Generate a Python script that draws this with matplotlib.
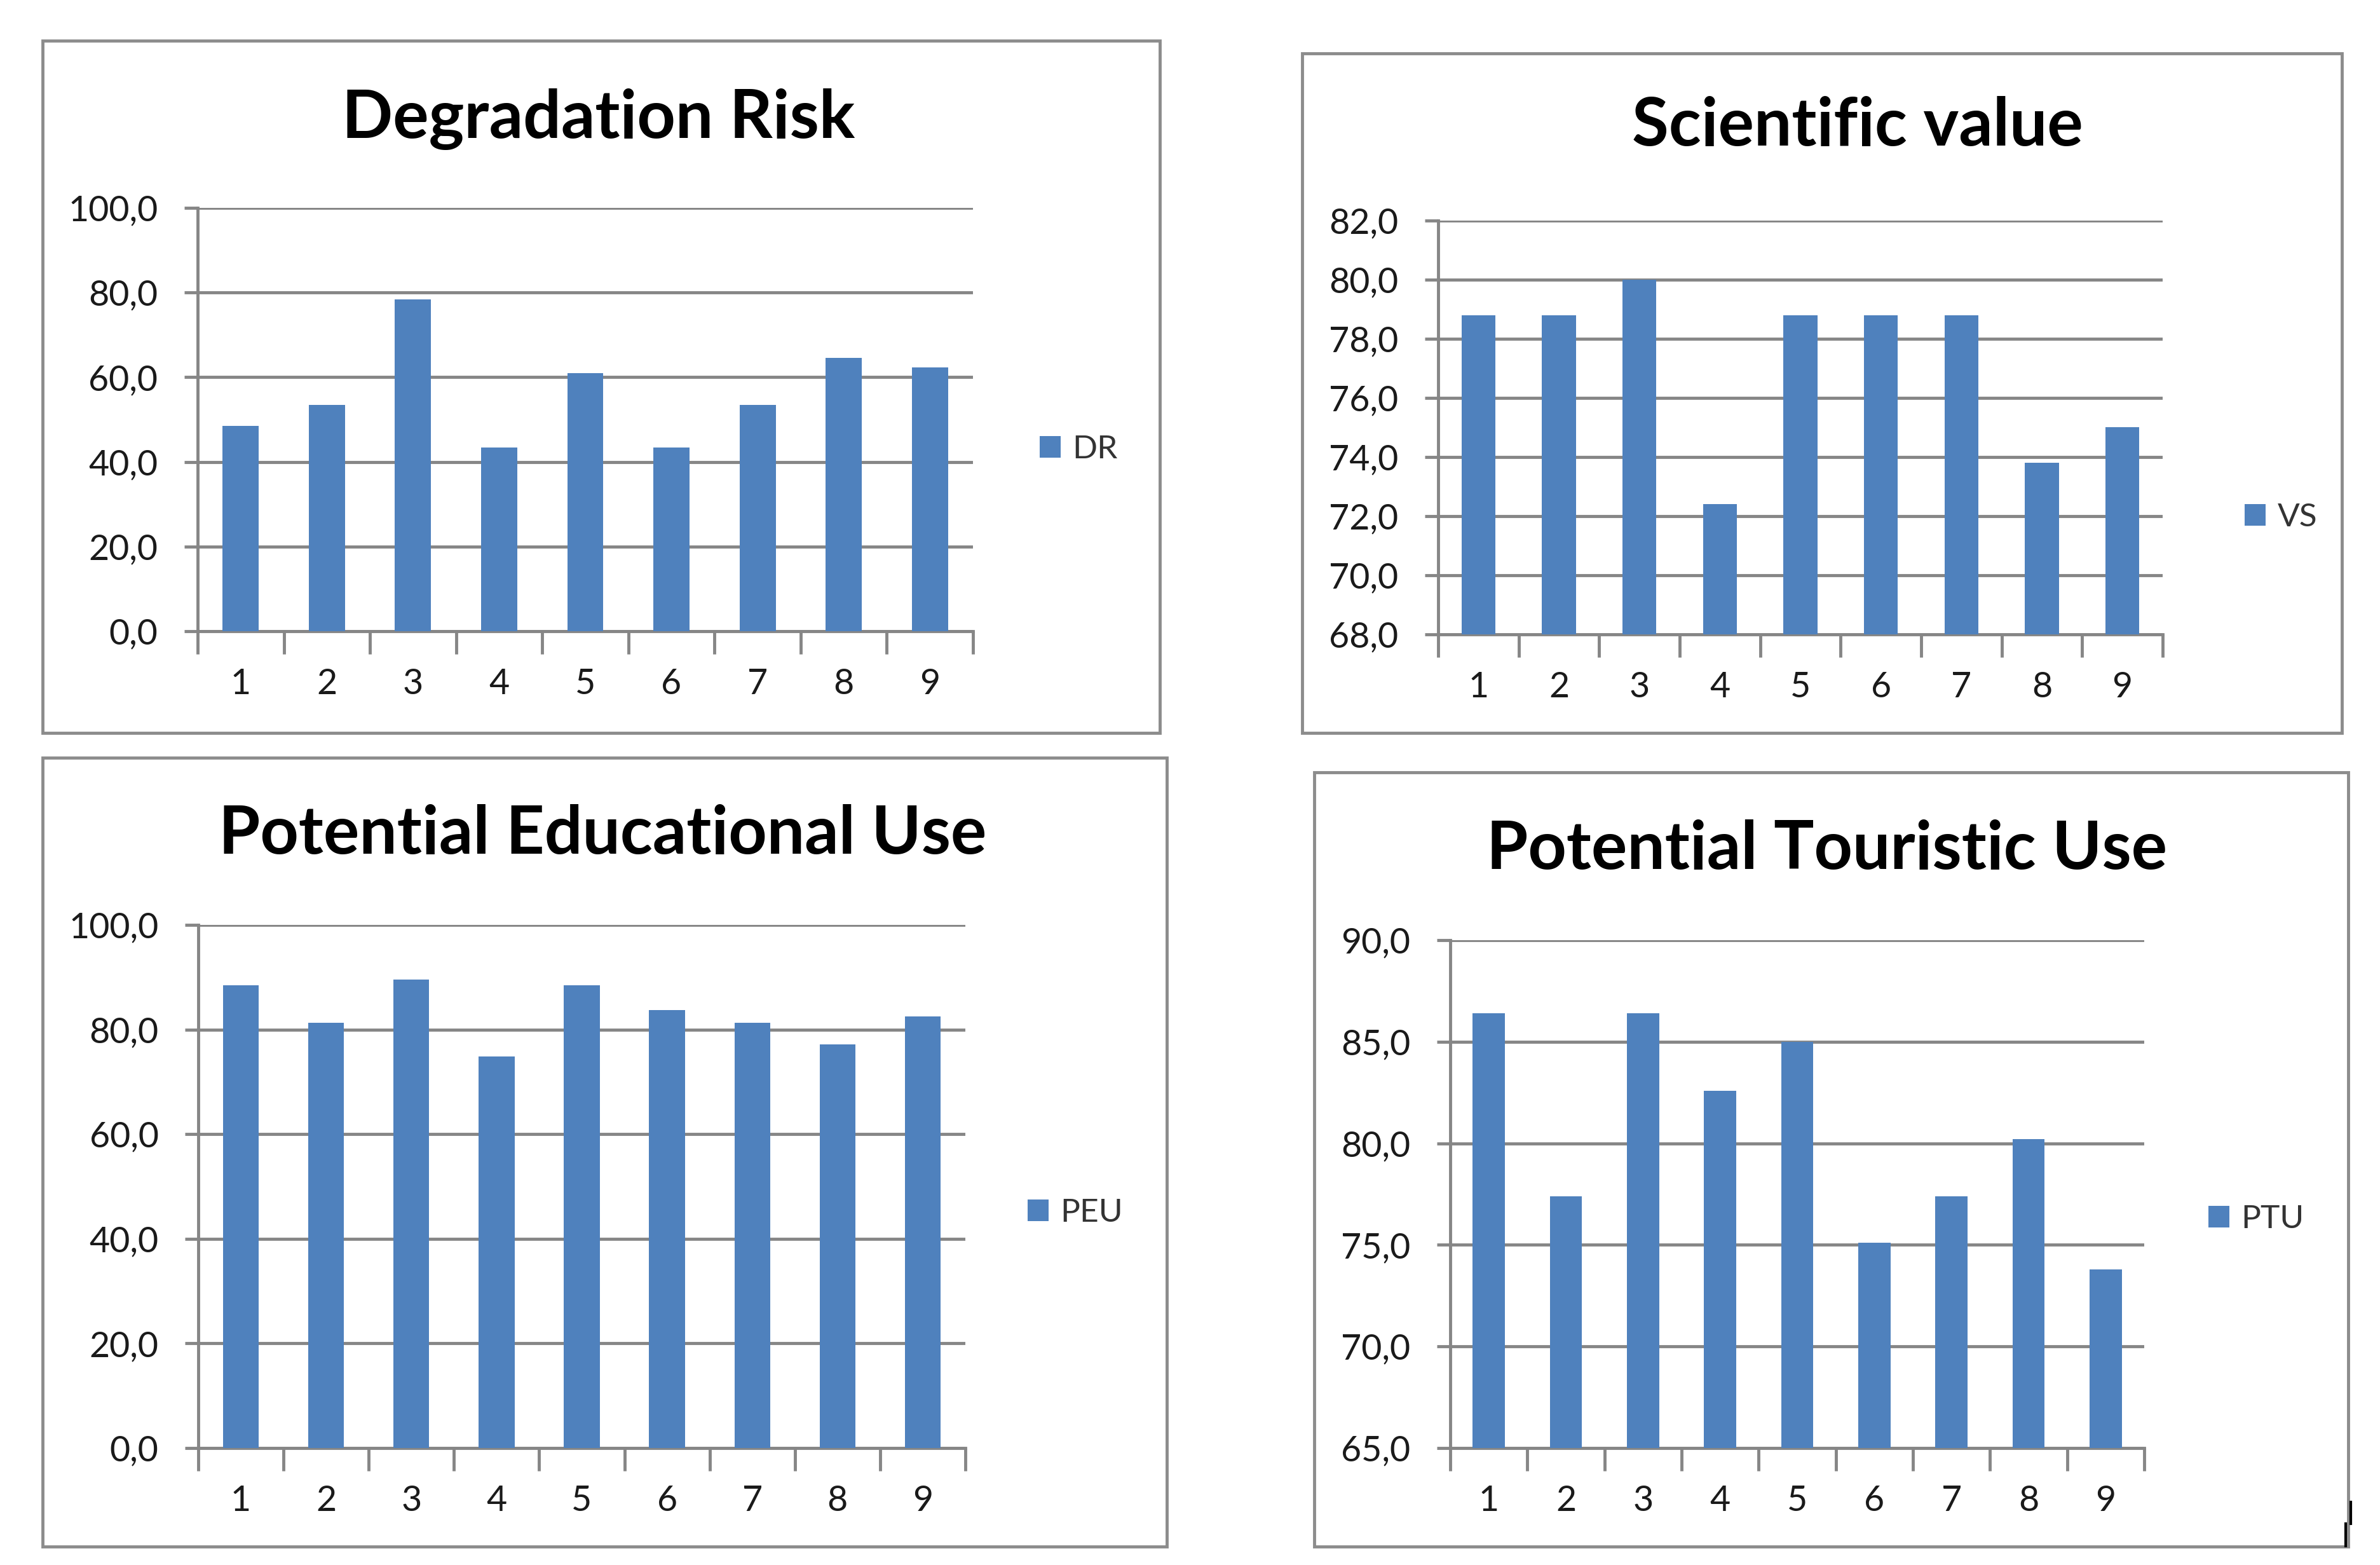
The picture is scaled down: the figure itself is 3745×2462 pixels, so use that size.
import matplotlib.pyplot as plt
from matplotlib.patches import Rectangle
from matplotlib.lines import Line2D

plt.rcParams['font.family'] = ['Lato', 'DejaVu Sans']

W, H = 3745, 2462

sites = ['1', '2', '3', '4', '5', '6', '7', '8', '9']

dr = [48.5, 53.5, 78.4, 43.4, 61.0, 43.4, 53.5, 64.6, 62.3]
vs = [78.8, 78.8, 80.0, 72.4, 78.8, 78.8, 78.8, 73.8, 75.0]
peu = [88.4, 81.3, 89.6, 74.8, 88.4, 83.7, 81.3, 77.2, 82.5]
ptu = [86.4, 77.4, 86.4, 82.6, 85.0, 75.1, 77.4, 80.2, 73.8]

panels = [
    # title, legend, values, (ymin, ymax, step), axes px (l, t, r, b), box px, title (cx, baseline), legend (x, y)
    ('Degradation Risk', 'DR', dr, (0, 100, 20), (311, 327, 1531, 993),
     (67, 64, 1825, 1153), (942, 217), (1636, 707)),
    ('Scientific value', 'VS', vs, (68, 82, 2), (2263, 347, 3403, 998),
     (2049, 84, 3685, 1153), (2923, 229), (3532, 814)),
    ('Potential Educational Use', 'PEU', peu, (0, 100, 20), (312, 1455, 1519, 2278),
     (67, 1192, 1836, 2433), (948, 1343), (1617, 1908)),
    ('Potential Touristic Use', 'PTU', ptu, (65, 90, 5), (2282, 1479, 3374, 2278),
     (2068, 1215, 3695, 2433), (2875, 1367), (3475, 1918)),
]

bar_color = '#4F81BD'
grid_color = '#868686'
text_color = '#1a1a1a'

fig = plt.figure(figsize=(W / 100, H / 100), dpi=100)
fig.patch.set_facecolor('white')

for title, name, vals, (y0, y1, step), (l, t, r, b), box, (tx, ty), (lx, ly) in panels:
    bl, bt, br, bb = box
    fig.patches.append(Rectangle((bl / W, 1 - bb / H), (br - bl) / W, (bb - bt) / H,
                                 transform=fig.transFigure, fill=False,
                                 edgecolor='#8c8c8c', linewidth=3.5))

    ax = fig.add_axes([l / W, 1 - b / H, (r - l) / W, (b - t) / H])
    x = list(range(1, len(vals) + 1))
    bars = ax.bar(x, [v - y0 for v in vals], bottom=y0, width=0.42,
                  color=bar_color, zorder=3, label=name)
    ax.set_xlim(0.5, len(vals) + 0.5)
    ax.set_ylim(y0, y1)

    yt = list(range(y0, y1 + 1, step))
    ax.set_yticks(yt)
    ax.set_yticklabels([f'{v:.1f}'.replace('.', ',') for v in yt])
    ax.set_xticks(x)
    ax.set_xticklabels(sites)
    ax.set_xticks([i + 0.5 for i in range(len(vals) + 1)], minor=True)

    ax.grid(axis='y', color=grid_color, linewidth=3.5, zorder=0)
    for s in ['top', 'right']:
        ax.spines[s].set_visible(False)
    for s in ['left', 'bottom']:
        ax.spines[s].set_color(grid_color)
        ax.spines[s].set_linewidth(3.5)

    ax.tick_params(axis='y', length=15, width=3.5, color=grid_color, pad=30,
                   labelsize=40, labelcolor=text_color)
    ax.tick_params(axis='x', which='major', length=0, pad=42,
                   labelsize=40, labelcolor=text_color)
    ax.tick_params(axis='x', which='minor', length=26, width=3.5, color=grid_color)

    fig.text(tx / W, 1 - ty / H, title, ha='center', va='baseline',
             fontsize=76, fontweight='bold', color='black')

    ax.legend(handles=[bars], labels=[name], loc='center left',
              bbox_to_anchor=(lx / W, 1 - ly / H), bbox_transform=fig.transFigure,
              frameon=False, fontsize=37, handlelength=0.65, handleheight=0.65,
              handletextpad=0.35, borderpad=0, borderaxespad=0, labelcolor='#333333')

# small dark marks at the lower right corner of the last frame
fig.lines.append(Line2D([3691 / W, 3691 / W], [1 - 2397 / H, 1 - 2432 / H],
                        transform=fig.transFigure, color='black', linewidth=3))
fig.lines.append(Line2D([3699 / W, 3699 / W], [1 - 2363 / H, 1 - 2397 / H],
                        transform=fig.transFigure, color='black', linewidth=3))

fig.savefig('out.png', dpi=100, facecolor='white')
